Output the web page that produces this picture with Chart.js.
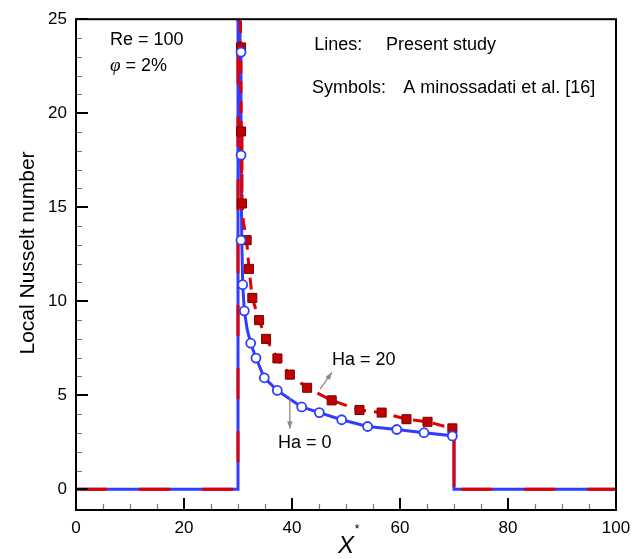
<!DOCTYPE html>
<html>
<head>
<meta charset="utf-8">
<script src="https://cdn.jsdelivr.net/npm/chart.js@4.4.0/dist/chart.umd.min.js"></script>
<style>
  html, body { margin: 0; padding: 0; background: #fff; }
  #wrap { width: 643px; height: 559px; }
</style>
</head>
<body>
<div id="wrap"><canvas id="chart" width="643" height="559"></canvas></div>
<script>
// Present study, Ha = 0 (solid blue line)
const ha0LineX = [0, 30, 30, 30.2, 30.4, 30.55, 30.7, 30.87, 31.17, 31.7, 32.35, 33.33, 34.87, 37.28, 40, 41.8, 45.06, 49.2, 54.0, 59.4, 64.44, 70, 70, 100];
const ha0LineY = [0, 0, 60, 30, 23.3, 17.8, 13.3, 10.9, 9.5, 8.5, 7.77, 6.98, 5.93, 5.26, 4.72, 4.38, 4.08, 3.7, 3.34, 3.18, 3.01, 2.84, 0, 0];

// Present study, Ha = 20 (dashed red line)
const ha20LineX = [0, 30, 30, 30.3, 30.5, 30.6, 30.74, 31.0, 31.6, 32.04, 32.65, 33.9, 35.2, 37.3, 39.6, 42.8, 47.35, 52.5, 56.6, 61.2, 65.1, 70, 70, 100];
const ha20LineY = [0, 0, 60, 30, 23.5, 19.0, 15.2, 14.2, 13.25, 11.72, 10.18, 9.0, 8.0, 6.96, 6.1, 5.4, 4.73, 4.22, 4.08, 3.73, 3.59, 3.22, 0, 0];

// Aminossadati et al. symbols
const ha0SymX = [30.56, 30.56, 30.56, 30.87, 31.17, 32.35, 33.33, 34.87, 37.28, 41.8, 45.06, 49.2, 54.0, 59.4, 64.44, 69.7];
const ha0SymY = [23.25, 17.77, 13.25, 10.88, 9.49, 7.77, 6.98, 5.93, 5.26, 4.38, 4.08, 3.7, 3.34, 3.18, 3.01, 2.84];
const ha20SymX = [30.56, 30.56, 30.74, 31.6, 32.04, 32.65, 33.9, 35.2, 37.3, 39.6, 42.8, 47.35, 52.5, 56.6, 61.2, 65.1, 69.7];
const ha20SymY = [23.5, 19.03, 15.2, 13.25, 11.72, 10.18, 9.0, 8.0, 6.96, 6.1, 5.4, 4.73, 4.22, 4.08, 3.73, 3.59, 3.24];

const xTicks = [0, 20, 40, 60, 80, 100];
const yTicks = [0, 5, 10, 15, 20, 25];

const BLUE = '#2f3dff';
const RED = '#e00000';
const FONT = '"Liberation Sans", Arial, Helvetica, sans-serif';

const toPoints = (xs, ys) => xs.map((x, i) => ({ x, y: ys[i] }));

const ha20Line = toPoints(ha20LineX, ha20LineY);

// long dashes on the flat / vertical parts, short ones along the curve
const redDash = ctx => {
  const a = ha20Line[ctx.p0DataIndex];
  const b = ha20Line[ctx.p1DataIndex];
  if (a.x === b.x || (a.y === 0 && b.y === 0)) return [31, 32];
  return [12, 8];
};

const frame = {
  id: 'frame',
  afterDatasetsDraw(chart) {
    const { ctx, chartArea: a, scales: { x, y } } = chart;
    ctx.save();

    // minor ticks
    ctx.strokeStyle = '#777';
    ctx.lineWidth = 1.2;
    ctx.beginPath();
    for (let v = 1; v < 25; v++) {
      if (v % 5 === 0) continue;
      const py = Math.round(y.getPixelForValue(v)) + 0.5;
      ctx.moveTo(a.left, py);
      ctx.lineTo(a.left + 6, py);
    }
    for (let v = 5; v < 100; v += 5) {
      if (v % 20 === 0) continue;
      const px = Math.round(x.getPixelForValue(v)) + 0.5;
      ctx.moveTo(px, a.bottom);
      ctx.lineTo(px, a.bottom - 6);
    }
    ctx.stroke();

    // major ticks
    ctx.strokeStyle = '#000';
    ctx.lineWidth = 2;
    ctx.beginPath();
    yTicks.forEach(v => {
      const py = Math.round(y.getPixelForValue(v));
      ctx.moveTo(a.left, py);
      ctx.lineTo(a.left + 12, py);
    });
    xTicks.forEach(v => {
      const px = Math.round(x.getPixelForValue(v));
      ctx.moveTo(px, a.bottom);
      ctx.lineTo(px, a.bottom - 12);
    });
    ctx.stroke();

    // box
    ctx.lineWidth = 2;
    ctx.strokeRect(a.left, a.top, a.right - a.left, a.bottom - a.top);
    ctx.restore();
  },
  afterDraw(chart) {
    const { ctx, chartArea: a, scales: { x, y } } = chart;
    const X = v => x.getPixelForValue(v);
    const Y = v => y.getPixelForValue(v);
    ctx.save();
    ctx.fillStyle = '#000';
    ctx.textBaseline = 'middle';
    ctx.textAlign = 'left';

    ctx.font = '18px ' + FONT;
    ctx.fillText('Re = 100', X(6.3), Y(23.9));
    ctx.font = 'italic 19px "Liberation Serif", "Times New Roman", serif';
    ctx.fillText('φ', X(6.3), Y(22.5));
    const phiW = ctx.measureText('φ').width;
    ctx.font = '18px ' + FONT;
    ctx.fillText(' = 2%', X(6.3) + phiW, Y(22.5));

    ctx.fillText('Lines:', X(44.1), Y(23.65));
    ctx.fillText('Present study', X(57.4), Y(23.65));
    ctx.fillText('Symbols:', X(43.7), Y(21.35));
    ctx.fillText('A minossadati et al. [16]', X(60.6), Y(21.35));

    ctx.fillText('Ha = 20', X(47.4), Y(6.86));
    ctx.fillText('Ha = 0', X(37.4), Y(2.48));

    // arrows
    const arrow = (x0, y0, x1, y1) => {
      const ang = Math.atan2(y1 - y0, x1 - x0);
      ctx.strokeStyle = '#8a8a8a';
      ctx.fillStyle = '#8a8a8a';
      ctx.lineWidth = 1.3;
      ctx.beginPath();
      ctx.moveTo(x0, y0);
      ctx.lineTo(x1, y1);
      ctx.stroke();
      ctx.beginPath();
      ctx.moveTo(x1, y1);
      ctx.lineTo(x1 - 8 * Math.cos(ang - 0.35), y1 - 8 * Math.sin(ang - 0.35));
      ctx.lineTo(x1 - 8 * Math.cos(ang + 0.35), y1 - 8 * Math.sin(ang + 0.35));
      ctx.closePath();
      ctx.fill();
    };
    arrow(X(45.2), Y(5.33), X(47.4), Y(6.22));
    arrow(X(39.6), Y(4.86), X(39.6), Y(3.22));

    // axis titles
    ctx.fillStyle = '#000';
    ctx.textAlign = 'center';
    ctx.save();
    ctx.translate(28, 253);
    ctx.rotate(-Math.PI / 2);
    ctx.font = '21px ' + FONT;
    ctx.fillText('Local Nusselt number', 0, 0);
    ctx.restore();

    const cx = (a.left + a.right) / 2;
    ctx.font = 'italic 24px ' + FONT;
    ctx.fillText('X', cx, 546);
    ctx.font = '12px ' + FONT;
    ctx.fillText('*', cx + 11, 530);
    ctx.restore();
  }
};

Chart.defaults.font.family = FONT;
Chart.defaults.color = '#000';

new Chart(document.getElementById('chart'), {
  type: 'scatter',
  data: {
    datasets: [
      {
        label: 'Ha = 0 (present)',
        data: toPoints(ha0LineX, ha0LineY),
        showLine: true,
        borderColor: BLUE,
        borderWidth: 3,
        pointRadius: 0,
        tension: 0,
        order: 3,
      },
      {
        label: 'Ha = 20 (present)',
        data: ha20Line,
        showLine: true,
        borderColor: RED,
        borderWidth: 3,
        pointRadius: 0,
        tension: 0,
        segment: { borderDash: redDash },
        order: 2,
      },
      {
        label: 'Ha = 20 (ref)',
        data: toPoints(ha20SymX, ha20SymY),
        pointStyle: 'rect',
        pointRadius: 6.4,
        backgroundColor: '#c00000',
        borderColor: '#7a0000',
        borderWidth: 1,
        order: 1,
      },
      {
        label: 'Ha = 0 (ref)',
        data: toPoints(ha0SymX, ha0SymY),
        pointStyle: 'circle',
        pointRadius: 4.5,
        backgroundColor: '#fff',
        borderColor: BLUE,
        borderWidth: 1.8,
        order: 0,
      },
    ],
  },
  options: {
    responsive: false,
    animation: false,
    events: [],
    layout: { padding: { top: 15, right: 27, left: 0, bottom: 0 } },
    plugins: {
      legend: { display: false },
      tooltip: { enabled: false },
    },
    scales: {
      x: {
        type: 'linear',
        min: 0,
        max: 100,
        grid: { display: false, drawTicks: false },
        border: { display: false },
        afterBuildTicks: scale => { scale.ticks = xTicks.map(v => ({ value: v })); },
        afterFit: scale => { scale.height = 49; },
        ticks: { font: { size: 17 }, padding: 8, maxRotation: 0, autoSkip: false },
      },
      y: {
        type: 'linear',
        min: -1.1,
        max: 25,
        grid: { display: false, drawTicks: false },
        border: { display: false },
        afterBuildTicks: scale => { scale.ticks = yTicks.map(v => ({ value: v })); },
        afterFit: scale => { scale.width = 76; },
        ticks: { font: { size: 17 }, padding: 9 },
      },
    },
  },
  plugins: [frame],
});
</script>
</body>
</html>
